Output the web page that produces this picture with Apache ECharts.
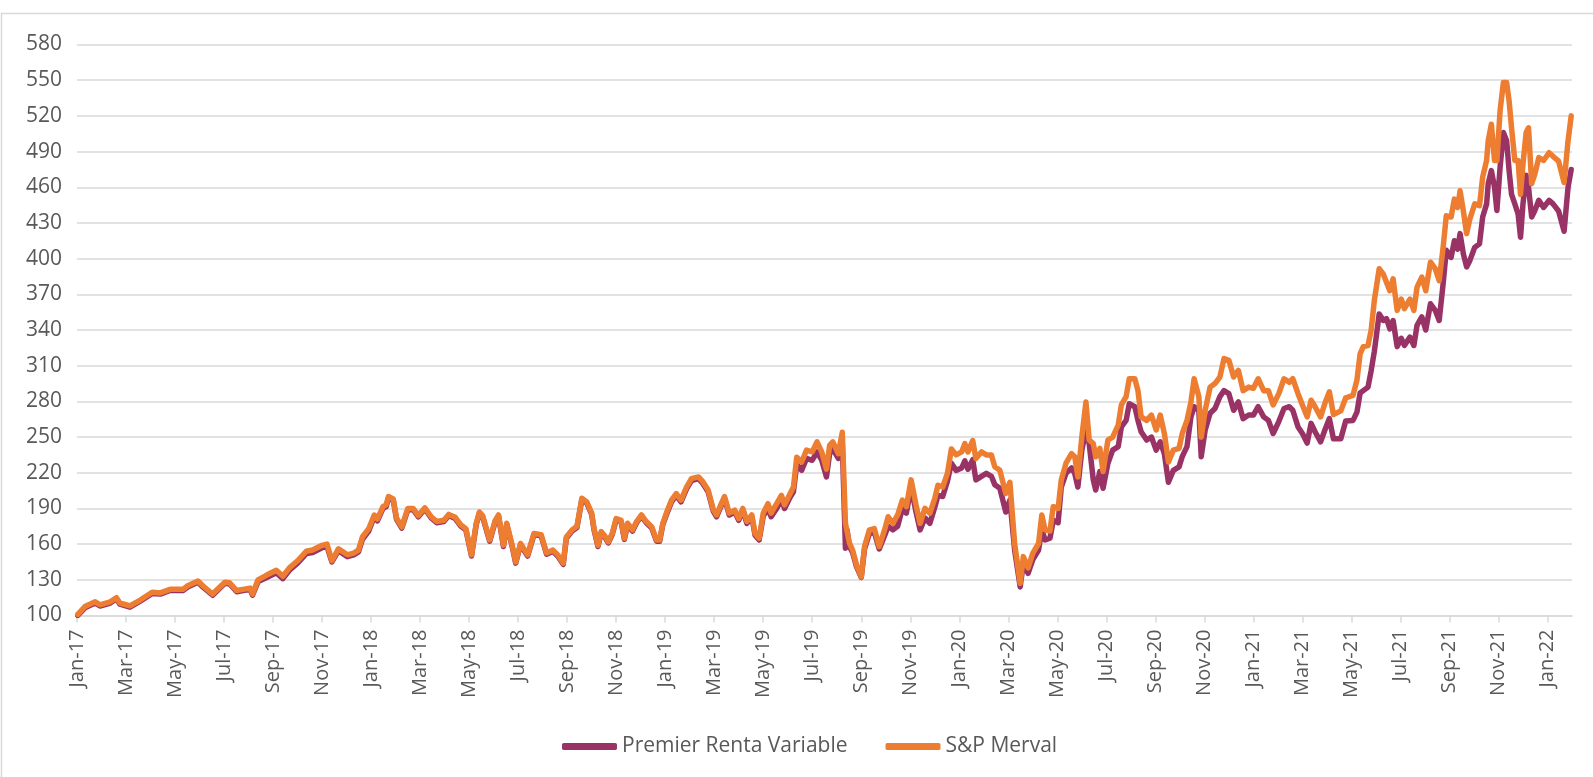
<!DOCTYPE html>
<html>
<head>
<meta charset="utf-8">
<title>Premier Renta Variable vs S&amp;P Merval</title>
<script src="https://cdn.jsdelivr.net/npm/echarts@6.0.0/dist/echarts.min.js"></script>
<style>
  html, body { margin: 0; padding: 0; background: #fff; }
  #chart { width: 1593px; height: 777px; }
</style>
</head>
<body>
<div id="chart"></div>
<script>
// valores (base 100 = ene-2017)
const dates2017 = ['2017-01-02','2017-01-11','2017-01-24','2017-01-30','2017-02-11','2017-02-18','2017-02-22','2017-03-06','2017-03-19','2017-04-03',
  '2017-04-13','2017-04-25','2017-05-11','2017-05-17','2017-05-30','2017-06-05','2017-06-17','2017-07-02','2017-07-08','2017-07-17',
  '2017-07-25','2017-08-03','2017-08-06','2017-08-13','2017-08-24','2017-09-05','2017-09-13','2017-09-21','2017-10-01','2017-10-12',
  '2017-10-20','2017-11-01','2017-11-07','2017-11-13','2017-11-21','2017-12-02','2017-12-10','2017-12-16','2017-12-21','2017-12-29'];
const merval2017 = [101,107.5,111.5,109,111.5,115,110.5,108,113,119.5, 119,122,122,125,129,125,118,128,127.5,121,
  122,123,118,130,134,138,133,140,146,154, 155,159,160,146,156,151,152.5,155,166,173];
const premier2017 = [100,106.5,110.5,108,110.5,114,109.5,107,112,118.5, 118,121,121,124,128,124,117,127,126.5,120,
  121,122,117,128.5,132,136,131,138,144,152, 153,157,158,145,154.5,149.5,151,153.5,164,171];

const dates2018 = ['2018-01-05','2018-01-09','2018-01-16','2018-01-20','2018-01-23','2018-01-29','2018-02-02','2018-02-08','2018-02-15','2018-02-21',
  '2018-02-27','2018-03-07','2018-03-15','2018-03-22','2018-03-31','2018-04-06','2018-04-14','2018-04-21','2018-04-27','2018-05-04',
  '2018-05-10','2018-05-14','2018-05-18','2018-05-27','2018-06-03','2018-06-07','2018-06-13','2018-06-17','2018-06-24','2018-06-28',
  '2018-07-04','2018-07-13','2018-07-21','2018-07-30','2018-08-06','2018-08-14','2018-08-20','2018-08-27','2018-08-31','2018-09-07',
  '2018-09-13','2018-09-19','2018-09-25','2018-10-01','2018-10-04','2018-10-09','2018-10-13','2018-10-17','2018-10-22','2018-10-27',
  '2018-11-01','2018-11-07','2018-11-11','2018-11-15','2018-11-21','2018-11-26','2018-12-02','2018-12-08','2018-12-15','2018-12-21',
  '2018-12-25','2018-12-29'];
const merval2018 = [184.5,181,191.5,193,200,198,182,174.5,190,190, 184,190.5,183,179,180,185,182.5,176,173,151,
  177.5,187,184,163.5,180,184.5,159,177.5,158,145, 160.5,151,169,168,152.5,155,151,144,166,172,
  175,198.5,195.5,186,173,159,170.5,167.5,162,169, 181.5,180,165,177.5,172,179,184.5,179,174.5,163.5,
  163.5,177.5];
const premier2018 = [183,179.5,190,191.5,198.5,197,181,173.5,189,189, 183,189.5,182,178,179,184,181.5,175,172,150,
  176.5,186,183,162.5,179,183.5,158,176.5,157,144, 159.5,150,168,167,151.5,154,150,143,165,171,
  174,197.5,194.5,185,172,158,169.5,166.5,161,168, 180.5,179,164,176.5,171,178,183.5,178,173.5,162.5,
  162.5,176.5];

const dates2019 = ['2019-01-03','2019-01-09','2019-01-15','2019-01-21','2019-01-28','2019-02-03','2019-02-11','2019-02-16','2019-02-22','2019-02-28',
  '2019-03-04','2019-03-10','2019-03-14','2019-03-20','2019-03-27','2019-04-01','2019-04-06','2019-04-11','2019-04-17','2019-04-21',
  '2019-04-26','2019-05-01','2019-05-07','2019-05-11','2019-05-18','2019-05-24','2019-05-28','2019-06-04','2019-06-08','2019-06-12',
  '2019-06-18','2019-06-24','2019-07-01','2019-07-07','2019-07-13','2019-07-19','2019-07-23','2019-07-27','2019-08-03','2019-08-08',
  '2019-08-12','2019-08-14','2019-08-17','2019-08-21','2019-08-26','2019-09-01','2019-09-05','2019-09-11','2019-09-17','2019-09-23',
  '2019-09-30','2019-10-04','2019-10-10','2019-10-16','2019-10-22','2019-10-27','2019-11-02','2019-11-08','2019-11-13','2019-11-19',
  '2019-11-25','2019-12-01','2019-12-05','2019-12-11','2019-12-17','2019-12-22','2019-12-28'];
const merval2019 = [187,197,202.5,197,208,215,216.5,212.5,205.5,189, 184.5,194,200,186,188.5,181.5,190,179,184.5,169,
  165,186,194,186,194,201,193,202.5,208,233, 229,239,237.5,246,237.5,223,243,246,236,254,
  177.5,177,161,155,142.5,132.5,158,172,173,158, 173,183,177.5,184.5,197,191.5,214,193,177.5,190,
  186,198.5,209.5,208,219.5,240,235];
const premier2019 = [185.5,195.5,201,195.5,206.5,213.5,215,211,204,187.5, 183,192.5,198.5,184.5,187,180,188.5,177.5,183,167.5,
  163.5,183.5,190,183,190,197,190,199.5,204,227, 222,232,230.5,237.5,230.5,216.5,236,240,232,244.5,
  156.5,172,158,153,141,132,156,169,170,156, 168,175,172,175,190,186,208,187,172,182,
  177.5,191,201,200,213,228,222];

const dates2020 = ['2020-01-04','2020-01-08','2020-01-12','2020-01-18','2020-01-22','2020-01-29','2020-02-04','2020-02-10','2020-02-14','2020-02-20',
  '2020-02-27','2020-03-03','2020-03-09','2020-03-16','2020-03-20','2020-03-26','2020-04-01','2020-04-08','2020-04-12','2020-04-16',
  '2020-04-22','2020-04-26','2020-05-02','2020-05-06','2020-05-12','2020-05-19','2020-05-23','2020-05-27','2020-06-01','2020-06-06',
  '2020-06-10','2020-06-15','2020-06-18','2020-06-23','2020-06-27','2020-07-03','2020-07-09','2020-07-16','2020-07-20','2020-07-26',
  '2020-07-30','2020-08-06','2020-08-10','2020-08-14','2020-08-21','2020-08-27','2020-09-02','2020-09-07','2020-09-12','2020-09-17',
  '2020-09-23','2020-09-30','2020-10-04','2020-10-10','2020-10-15','2020-10-19','2020-10-25','2020-10-28','2020-11-02','2020-11-08',
  '2020-11-14','2020-11-20','2020-11-25','2020-12-01','2020-12-07','2020-12-13','2020-12-19','2020-12-26'];
const merval2020 = [237.5,244.5,237.5,247,232,237.5,235,235,225,222, 202.5,212,160.5,127,149.5,140,152.5,160.5,184.5,172,
  171,191.5,190,214,228,236,233.5,216.5,250,279.5, 247.5,244.5,233.5,240.5,221,247.5,250,260,277,284,
  299,299,289,267,264,268.5,256,268.5,253,229, 239,240.5,253,264,279.5,299,284,250,272.5,292,
  295,300.5,316,314.5,300.5,306,289,292];
const premier2020 = [224,230,223,231,214,217,219.5,217,210,207, 187,197,155,124,144,135.5,147,155,172,163.5,
  165,180,178,208,219.5,224,219.5,208,239,256, 244.5,214,205.5,221,207,228,239,242,258.5,264,
  278,275.5,264,254.5,247.5,250,239,246,236,212, 222,225,233.5,242,267,275.5,272.5,233.5,256,270,
  274,284,289,286.5,272.5,279.5,265.5,268.5];

const dates2021 = ['2021-01-01','2021-01-07','2021-01-14','2021-01-20','2021-01-26','2021-02-02','2021-02-08','2021-02-14','2021-02-18','2021-02-24',
  '2021-03-01','2021-03-07','2021-03-12','2021-03-17','2021-03-24','2021-03-30','2021-04-04','2021-04-09','2021-04-18','2021-04-24',
  '2021-05-03','2021-05-08','2021-05-12','2021-05-16','2021-05-22','2021-05-26','2021-05-30','2021-06-05','2021-06-10','2021-06-14',
  '2021-06-18','2021-06-22','2021-06-27','2021-07-02','2021-07-06','2021-07-13','2021-07-18','2021-07-22','2021-07-28','2021-08-02',
  '2021-08-08','2021-08-14','2021-08-19','2021-08-24','2021-08-28','2021-09-03','2021-09-07','2021-09-11','2021-09-14','2021-09-18',
  '2021-09-22','2021-09-26','2021-10-02','2021-10-08','2021-10-12','2021-10-17','2021-10-19','2021-10-23','2021-10-27','2021-10-30',
  '2021-11-03','2021-11-07','2021-11-11','2021-11-14','2021-11-17','2021-11-21','2021-11-25','2021-11-28','2021-12-01','2021-12-05',
  '2021-12-08','2021-12-12','2021-12-16','2021-12-21','2021-12-27'];
const merval2021 = [291,299,289,289,277,286.5,299,296,299,286.5, 277,267,281,275.5,267,279.5,288,269,272,283,
  285,298,320,326,327,340,365,391.5,387,380, 373,383,356.5,366,358,366,356.5,376,384.5,373,
  397,391.5,381.5,409.5,436,435,450,443,457,440, 421,433.5,446,444.5,468.5,482.5,499,513,482.5,482.5,
  524.5,548,548,532.5,510,482.5,482.5,454,479.5,506, 510,463,471,485,482.5];
const premier2021 = [268.5,275.5,267,264,253,263,274,275.5,272.5,258.5, 253,245,261.5,254.5,246,257,265.5,248.5,248.5,263.5,
  264,271,287,289,292,306,322,353.5,348,349.5, 341,348,326,333,327,334,327,344,351,340,
  362,356.5,348,379,407,401,415,408,421,404, 393,398.5,409.5,412.5,435,446,463,474,460,440.5,
  477,506,499,474,454,446,437.5,418,446,470, 460,435,440.5,449,443];

const dates2022 = ['2022-01-03','2022-01-08','2022-01-15','2022-01-22','2022-01-27','2022-01-31'];
const merval2022 = [489,486,482,464,499,520];
const premier2022 = [449,446,440,423,460,475];

// etiquetas del eje x
const monthNames = ['Jan','Feb','Mar','Apr','May','Jun','Jul','Aug','Sep','Oct','Nov','Dec'];
const seriesNames = ['Premier Renta Variable', 'S&P Merval'];

const dates = [].concat(dates2017, dates2018, dates2019, dates2020, dates2021, dates2022);
const premier = [].concat(premier2017, premier2018, premier2019, premier2020, premier2021, premier2022);
const merval = [].concat(merval2017, merval2018, merval2019, merval2020, merval2021, merval2022);

// fecha -> meses desde ene-2017 (fraccional), asi los ticks caen justo a principio de mes
function monthIndex(s) {
  let p = s.split('-').map(Number);
  let dim = new Date(p[0], p[1], 0).getDate();
  return (p[0] - 2017) * 12 + (p[1] - 1) + (p[2] - 1) / dim;
}

const textColor = '#595959';
const gridColor = '#D9D9D9';
const font = 'Open Sans';

var chart = echarts.init(document.getElementById('chart'));
let option = {
  animation: false,
  backgroundColor: '#fff',
  graphic: [{
    type: 'rect',
    shape: { x: 1.5, y: 13.5, width: 1600, height: 800 },
    style: { fill: 'none', stroke: gridColor, lineWidth: 1.5 },
    silent: true
  }],
  grid: { left: 77, right: 21, top: 44.5, bottom: 161.5 },
  legend: {
    top: 731,
    left: 557,
    itemWidth: 55,
    itemHeight: 7,
    itemGap: 38,
    icon: 'roundRect',
    textStyle: { color: textColor, fontSize: 21, fontFamily: font },
    data: seriesNames
  },
  xAxis: {
    type: 'value',
    min: 0,
    max: 61,
    interval: 2,
    splitLine: { show: false },
    axisLine: { show: true, lineStyle: { color: gridColor, width: 1.5 } },
    axisTick: { show: true, length: 7, lineStyle: { color: gridColor, width: 1.5 } },
    axisLabel: {
      rotate: 90,
      margin: 14,
      color: textColor,
      fontSize: 20,
      fontFamily: font,
      showMaxLabel: false,
      formatter: function (v) {
        if (Math.abs(v - Math.round(v)) > 1e-6 || Math.round(v) % 2 !== 0) return '';
        let i = Math.round(v);
        return monthNames[i % 12] + '-' + (17 + Math.floor(i / 12));
      }
    }
  },
  yAxis: {
    type: 'value',
    min: 100,
    max: 580,
    interval: 30,
    axisLine: { show: false },
    axisTick: { show: false },
    splitLine: { lineStyle: { color: gridColor, width: 1.5 } },
    axisLabel: { margin: 15, color: textColor, fontSize: 21, fontFamily: font }
  },
  series: [
    {
      name: seriesNames[0],
      type: 'line',
      symbol: 'none',
      color: '#993366',
      lineStyle: { width: 5.5, color: '#993366', join: 'round', cap: 'round' },
      data: dates.map((d, i) => [monthIndex(d), premier[i]])
    },
    {
      name: seriesNames[1],
      type: 'line',
      symbol: 'none',
      color: '#ED7D31',
      lineStyle: { width: 5.5, color: '#ED7D31', join: 'round', cap: 'round' },
      data: dates.map((d, i) => [monthIndex(d), merval[i]])
    }
  ]
};
chart.setOption(option);
</script>
</body>
</html>
